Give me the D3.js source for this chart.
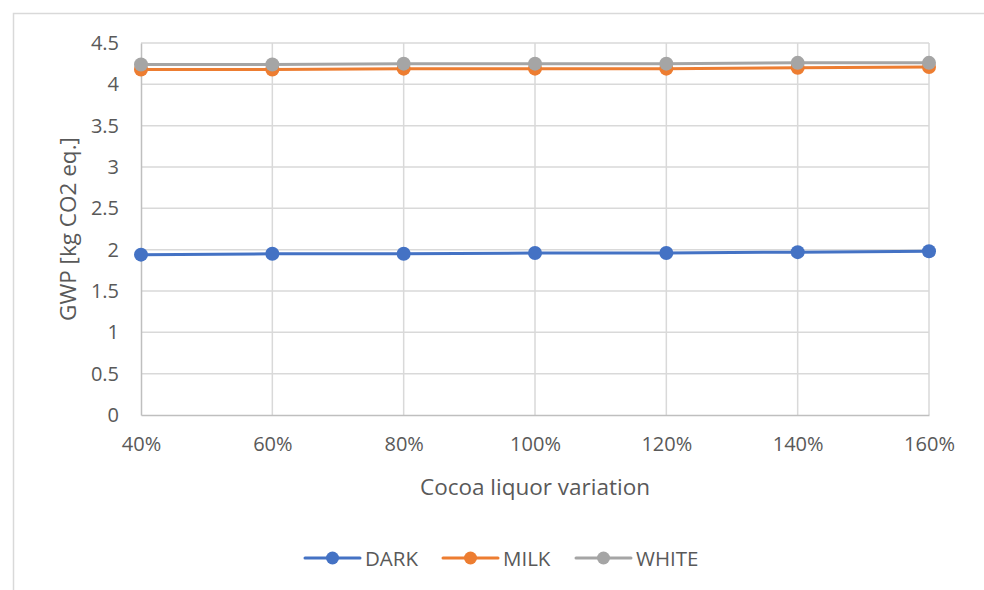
<!DOCTYPE html>
<html>
<head>
<meta charset="utf-8">
<script src="https://cdn.jsdelivr.net/npm/d3@7"></script>
<style>
  html, body { margin: 0; padding: 0; background: #fff; }
  svg { display: block; font-family: "Open Sans", "Noto Sans", sans-serif; }
</style>
</head>
<body>
<svg id="chart" width="984" height="590"></svg>
<script>
// Cocoa liquor variation levels (x categories)
const categories = ["40%", "60%", "80%", "100%", "120%", "140%", "160%"];
// GWP per chocolate type [kg CO2 eq.]
const darkValues  = [1.94, 1.95, 1.95, 1.96, 1.96, 1.97, 1.98];
const milkValues  = [4.18, 4.18, 4.19, 4.19, 4.19, 4.20, 4.21];
const whiteValues = [4.24, 4.24, 4.25, 4.25, 4.25, 4.26, 4.26];
const yTicks = [0, 0.5, 1, 1.5, 2, 2.5, 3, 3.5, 4, 4.5];
const yTickLabels = ["0", "0.5", "1", "1.5", "2", "2.5", "3", "3.5", "4", "4.5"];
const seriesNames = ["DARK", "MILK", "WHITE"];
const seriesColors = ["#4472c4", "#ed7d31", "#a5a5a5"];

const series = [
  { name: seriesNames[0], values: darkValues, color: seriesColors[0] },
  { name: seriesNames[1], values: milkValues, color: seriesColors[1] },
  { name: seriesNames[2], values: whiteValues, color: seriesColors[2] }
];

const svg = d3.select("#chart");
const margin = { left: 141, right: 984 - 929, top: 43, bottom: 590 - 415 };
const W = 984, H = 590;

// Outer chart frame
svg.append("path")
  .attr("d", `M13.5,600 V13.5 H990`)
  .attr("fill", "none")
  .attr("stroke", "#d9d9d9")
  .attr("stroke-width", 1.5);

const x = d3.scalePoint().domain(categories).range([margin.left, W - margin.right]);
const y = d3.scaleLinear().domain([0, 4.5]).range([H - margin.bottom, margin.top]);

// Horizontal gridlines
svg.append("g")
  .selectAll("line")
  .data(yTicks.slice(1))
  .join("line")
  .attr("x1", margin.left).attr("x2", W - margin.right)
  .attr("y1", d => y(d)).attr("y2", d => y(d))
  .attr("stroke", "#d9d9d9").attr("stroke-width", 1.5);

// Vertical gridlines
svg.append("g")
  .selectAll("line")
  .data(categories.slice(1))
  .join("line")
  .attr("x1", d => x(d)).attr("x2", d => x(d))
  .attr("y1", y(0)).attr("y2", y(4.5))
  .attr("stroke", "#d9d9d9").attr("stroke-width", 1.5);

// Y axis
const yAxis = svg.append("g")
  .attr("transform", `translate(${margin.left},0)`)
  .call(d3.axisLeft(y).tickValues(yTicks).tickFormat((d, i) => yTickLabels[i]).tickSize(0).tickPadding(22));
yAxis.select(".domain").attr("stroke", "#bfbfbf").attr("stroke-width", 1.5);
yAxis.selectAll("text").attr("fill", "#595959").style("font-size", "20px")
  .style("font-family", "'Open Sans', sans-serif");

// X axis
const xAxis = svg.append("g")
  .attr("transform", `translate(0,${y(0)})`)
  .call(d3.axisBottom(x).tickSize(0).tickPadding(22));
xAxis.select(".domain").attr("stroke", "#bfbfbf").attr("stroke-width", 1.5);
xAxis.selectAll("text").attr("fill", "#595959").style("font-size", "20px")
  .style("font-family", "'Open Sans', sans-serif");

// Axis titles
svg.append("text")
  .attr("x", (margin.left + W - margin.right) / 2)
  .attr("y", 495)
  .attr("text-anchor", "middle")
  .attr("fill", "#595959")
  .style("font-size", "22.5px")
  .text("Cocoa liquor variation");

svg.append("text")
  .attr("transform", `translate(76,${(y(0) + y(4.5)) / 2}) rotate(-90)`)
  .attr("text-anchor", "middle")
  .attr("fill", "#595959")
  .style("font-size", "22.5px")
  .text("GWP [kg CO2 eq.]");

// Series lines and markers
const line = d3.line().x((d, i) => x(categories[i])).y(d => y(d));
series.forEach(s => {
  const g = svg.append("g");
  g.append("path")
    .datum(s.values)
    .attr("d", line)
    .attr("fill", "none")
    .attr("stroke", s.color)
    .attr("stroke-width", 3)
    .attr("stroke-linecap", "round");
  g.selectAll("circle")
    .data(s.values)
    .join("circle")
    .attr("cx", (d, i) => x(categories[i]))
    .attr("cy", d => y(d))
    .attr("r", 7)
    .attr("fill", s.color);
});

// Legend
const legendX = [305, 443, 576];
const legend = svg.append("g");
series.forEach((s, i) => {
  const lg = legend.append("g").attr("transform", `translate(${legendX[i]},558)`);
  lg.append("line").attr("x1", 0).attr("x2", 55).attr("y1", 0).attr("y2", 0)
    .attr("stroke", s.color).attr("stroke-width", 3).attr("stroke-linecap", "round");
  lg.append("circle").attr("cx", 27.5).attr("cy", 0).attr("r", 6.5).attr("fill", s.color);
  lg.append("text").attr("x", 60).attr("y", 7.5)
    .attr("fill", "#595959").style("font-size", "20.5px")
    .text(s.name);
});
</script>
</body>
</html>
